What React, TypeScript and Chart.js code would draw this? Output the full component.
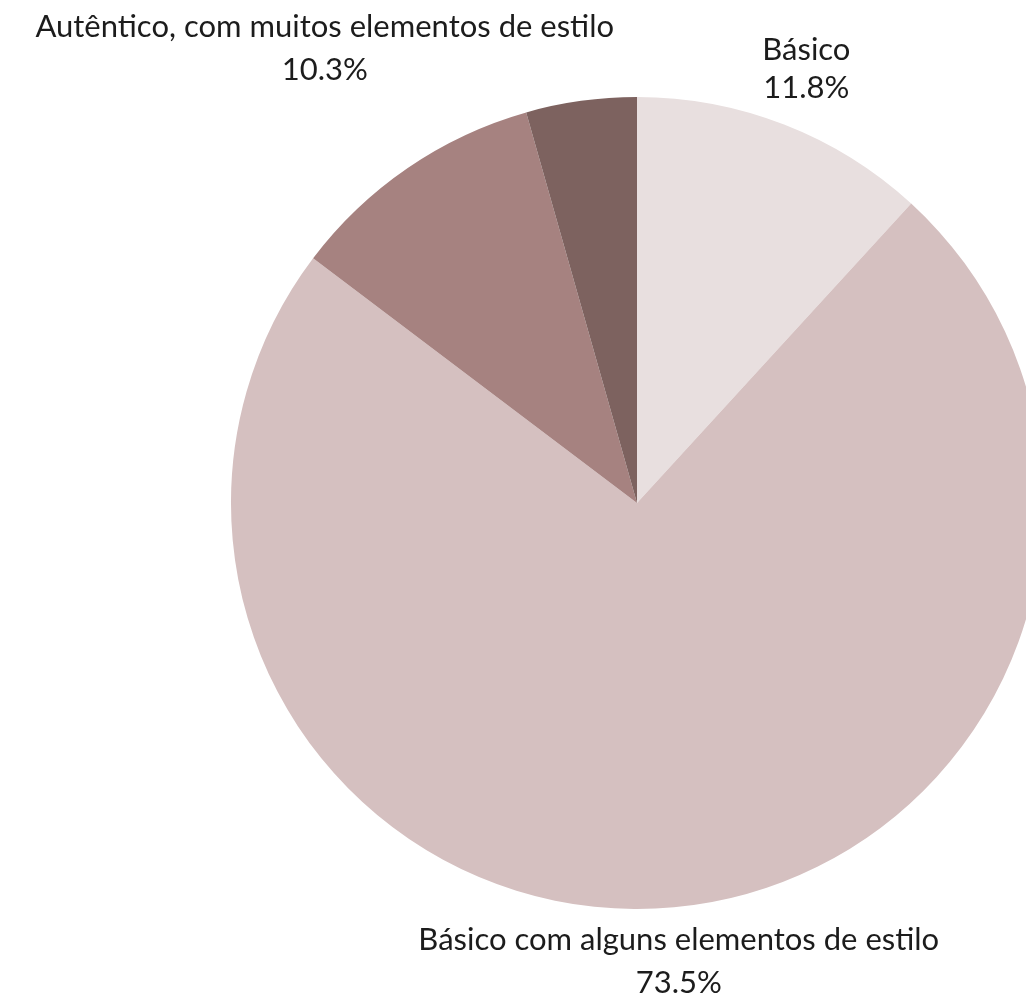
import React, { useEffect, useRef } from "react";
import { Chart, registerables } from "chart.js";

Chart.register(...registerables);

const categories = [
  "Básico",
  "Básico com alguns elementos de estilo",
  "Autêntico, com muitos elementos de estilo",
  "Outro",
];
const values = [11.8, 73.5, 10.3, 4.4];
const colors = ["#E8DFDF", "#D5C0C0", "#A68280", "#7D625F"];
const labelsShown = [true, true, true, false];

const FONT = "Lato";
const FONT_WEIGHT = 400;
const FONT_SIZE = 31;
const LINE_GAP = 16;
const GAP = 18;

const labelPlugin = {
  id: "outerLabels",
  afterDatasetsDraw(chart: any) {
    const ctx = chart.ctx;
    const meta = chart.getDatasetMeta(0);
    ctx.save();
    ctx.font = `${FONT_WEIGHT} ${FONT_SIZE}px ${FONT}`;
    ctx.fillStyle = "#1c1c1c";
    ctx.textAlign = "center";
    ctx.textBaseline = "alphabetic";
    meta.data.forEach((arc: any, i: number) => {
      if (!labelsShown[i]) return;
      const { x, y, startAngle, endAngle, outerRadius } = arc.getProps(
        ["x", "y", "startAngle", "endAngle", "outerRadius"],
        true
      );
      const mid = (startAngle + endAngle) / 2;
      const lines = [categories[i], `${values[i].toFixed(1)}%`];
      const ms = lines.map((l) => ctx.measureText(l));
      const w = Math.max(...ms.map((m) => m.width));
      let h = 0;
      const offs: number[] = [];
      ms.forEach((m, k) => {
        if (k > 0) h += LINE_GAP;
        offs.push(h + m.actualBoundingBoxAscent);
        h += m.actualBoundingBoxAscent + m.actualBoundingBoxDescent;
      });
      let d = outerRadius;
      for (; d < outerRadius + 400; d += 0.5) {
        const cx = x + d * Math.cos(mid);
        const cy = y + d * Math.sin(mid);
        const nx = Math.max(cx - w / 2, Math.min(x, cx + w / 2));
        const ny = Math.max(cy - h / 2, Math.min(y, cy + h / 2));
        const dist = Math.hypot(nx - x, ny - y);
        if (dist >= outerRadius + GAP) break;
      }
      const cx = x + d * Math.cos(mid);
      const cy = y + d * Math.sin(mid);
      lines.forEach((l, k) => {
        ctx.fillText(l, cx, cy - h / 2 + offs[k]);
      });
    });
    ctx.restore();
  },
};

export default function App() {
  const ref = useRef<HTMLCanvasElement>(null);
  useEffect(() => {
    if (!ref.current) return;
    const chart = new Chart(ref.current, {
      type: "pie",
      data: {
        labels: categories,
        datasets: [
          {
            data: values,
            backgroundColor: colors,
            borderWidth: 0,
            radius: 406,
            clip: false,
          } as any,
        ],
      },
      options: {
        responsive: false,
        animation: false,
        layout: { padding: { left: 248, right: 0, top: 4, bottom: 0 } },
        plugins: {
          legend: { display: false },
          tooltip: { enabled: false },
        },
      },
      plugins: [labelPlugin],
    });
    return () => chart.destroy();
  }, []);
  return (
    <div style={{ position: "absolute", left: 0, top: 0, width: 1026, height: 1002, background: "#fff" }}>
      <canvas ref={ref} width={1026} height={1002} style={{ width: 1026, height: 1002 }} />
    </div>
  );
}
